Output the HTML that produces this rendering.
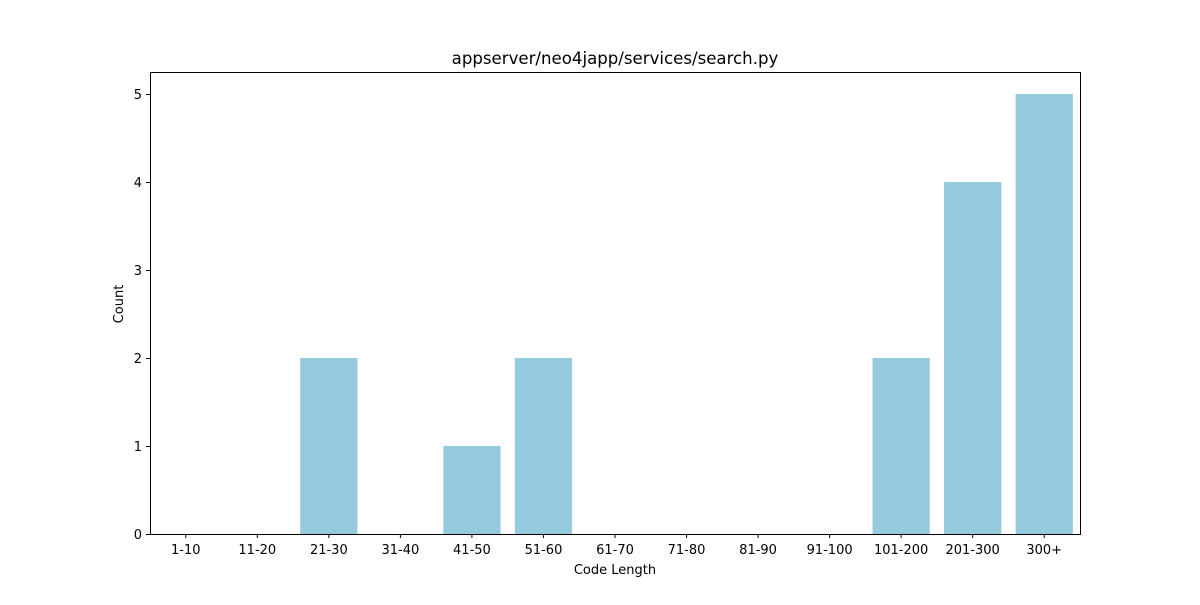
<!DOCTYPE html>
<html><head><meta charset="utf-8"><style>
body{margin:0;background:#fff;font-family:"Liberation Sans","DejaVu Sans",sans-serif;}
svg text{font-family:"DejaVu Sans","Liberation Sans",sans-serif;}
</style></head><body>
<svg id="chart" width="1200" height="600" xmlns="http://www.w3.org/2000/svg">
<rect width="1200" height="600" fill="#fff"/>
<text x="615" y="64" font-size="16.6" text-anchor="middle">appserver/neo4japp/services/search.py</text>
<g id="bars"></g>
<g id="xticks"></g>
<g id="yticks"></g>
<rect x="150.5" y="72.5" width="930" height="462" fill="none" stroke="#000" stroke-width="1"/>
<text x="615" y="574" font-size="13" text-anchor="middle">Code Length</text>
<text x="123" y="304" font-size="13" text-anchor="middle" transform="rotate(-90 123 304)">Count</text>
</svg>
<script>
const categories=["1-10","11-20","21-30","31-40","41-50","51-60","61-70","71-80","81-90","91-100","101-200","201-300","300+"];
const counts=[0,0,2,0,1,2,0,0,0,0,2,4,5];
const yTicks=[0,1,2,3,4,5];
const L=150,R=1080,B=534,T=72;
const step=(R-L)/categories.length;
const x=i=>L+step*(i+0.5);
const y=v=>B-(B-94)*v/5;
const NS="http://www.w3.org/2000/svg";
const bars=document.getElementById('bars'),xt=document.getElementById('xticks'),yt=document.getElementById('yticks');
function mk(t,a){const e=document.createElementNS(NS,t);for(const k in a)e.setAttribute(k,a[k]);return e;}
categories.forEach((c,i)=>{
 const w=step*0.8;
 const r=mk('rect',{x:x(i)-w/2,y:y(counts[i]),width:w,height:B-y(counts[i]),fill:'#95c9de'});
 
 
 bars.appendChild(r);
 const tk=mk('line',{x1:x(i),x2:x(i),y1:B,y2:B+4,stroke:'#000'});
 
 
 xt.appendChild(tk);
 const t=mk('text',{x:x(i),y:B+20,'font-size':13,'text-anchor':'middle'});
 t.textContent=c;
 
 
 xt.appendChild(t);
});
yTicks.forEach(v=>{
 const tk=mk('line',{x1:L-4,x2:L,y1:y(v)+0.5,y2:y(v)+0.5,stroke:'#000'});
 
 
 yt.appendChild(tk);
 const t=mk('text',{x:L-8,y:y(v)+5,'font-size':13,'text-anchor':'end'});
 t.textContent=v;
 
 
 yt.appendChild(t);
});
</script>
</body></html>
